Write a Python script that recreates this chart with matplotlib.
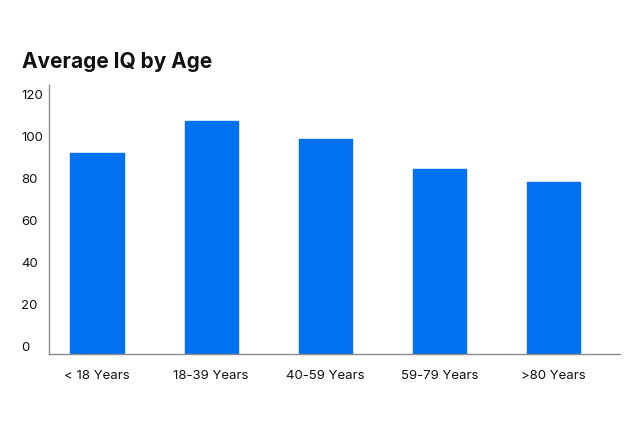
import matplotlib
matplotlib.use("Agg")
import matplotlib.pyplot as plt
import numpy as np

# data
categories = ["< 18 Years", "18-39 Years", "40-59 Years", "59-79 Years", ">80 Years"]
iq_values = [92, 107, 98.5, 84, 78]
y_ticks = [0, 20, 40, 60, 80, 100, 120]

BAR_COLOR = "#0071f0"
AXIS_COLOR = "#8a8a8a"
Y_LOW, Y_HIGH = -4.3, 124.3   # baseline sits a bit below the 0 label

plt.rcParams["font.family"] = ["Inter", "DejaVu Sans"]

fig = plt.figure(figsize=(6.4, 4.27), dpi=100)
W, H = 640, 427
# axes box in pixels: left 49, right 620, top 86, bottom 355
ax = fig.add_axes([49 / W, 1 - 355 / H, (620 - 49) / W, (355 - 86) / H])

x = np.arange(len(categories))
heights = [v - Y_LOW for v in iq_values]
ax.bar(x, heights, bottom=Y_LOW, width=0.465, color=BAR_COLOR,
       edgecolor=BAR_COLOR, linewidth=1, joinstyle="round", zorder=2)

ax.set_ylim(Y_LOW, Y_HIGH)
ax.set_xlim(-0.42, len(categories) - 1 + 0.58)

ax.set_yticks(y_ticks)
ax.set_yticklabels([str(t) for t in y_ticks], ha="left")
ax.tick_params(axis="y", length=0, pad=20.2, labelsize=9.5, labelcolor="#111111")

ax.set_xticks(x)
ax.set_xticklabels(categories)
ax.tick_params(axis="x", length=0, pad=11, labelsize=9.5, labelcolor="#111111")

for side in ["top", "right"]:
    ax.spines[side].set_visible(False)
for side in ["left", "bottom"]:
    ax.spines[side].set_color(AXIS_COLOR)
    ax.spines[side].set_linewidth(1.0)

fig.text(22 / W, 1 - 62 / H, "Average IQ by Age", fontsize=15,
         fontweight="bold", ha="left", va="center", color="#111111")

fig.savefig("out.png", dpi=100, facecolor="white")
